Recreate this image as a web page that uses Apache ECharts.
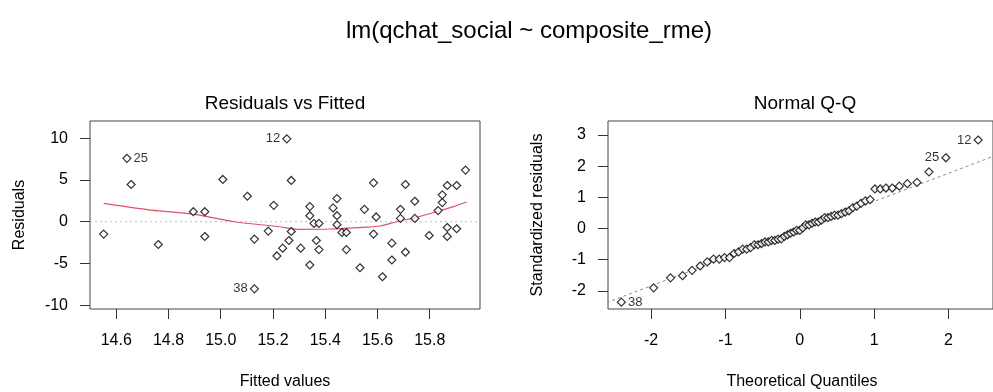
<!DOCTYPE html>
<html>
<head>
<meta charset="utf-8">
<script src="https://cdn.jsdelivr.net/npm/echarts@6/dist/echarts.min.js"></script>
<style>
html,body{margin:0;padding:0;background:#fff;}
#chart{width:993px;height:392px;}
</style>
</head>
<body>
<div id="chart"></div>
<script>
// ---- data ----
const fittedVals = [14.552,14.641,14.657,14.761,14.895,14.939,14.939,15.008,15.102,15.129,15.129,15.182,15.203,15.215,15.237,15.253,15.261,15.270,15.270,15.306,15.341,15.341,15.341,15.357,15.376,15.366,15.376,15.430,15.445,15.445,15.445,15.464,15.481,15.481,15.533,15.550,15.585,15.595,15.585,15.619,15.655,15.655,15.688,15.688,15.707,15.707,15.743,15.743,15.798,15.832,15.848,15.848,15.867,15.867,15.867,15.903,15.903,15.937];
const residVals = [-1.48,7.59,4.46,-2.73,1.20,1.20,-1.77,5.06,3.05,-2.08,-8.04,-1.12,1.96,-4.10,-3.17,9.92,-2.25,4.94,-1.17,-3.17,1.81,0.72,-5.18,-0.20,-0.20,-2.25,-3.34,1.65,2.77,0.72,-0.36,-1.29,-1.29,-3.34,-5.51,1.48,4.66,0.57,-1.48,-6.59,-2.57,-4.58,1.48,0.40,4.46,-3.65,2.45,0.40,-1.65,1.33,3.22,2.29,4.34,-0.69,-1.77,4.34,-0.84,6.18];
const smoothX = [14.552,14.734,14.900,15.053,15.226,15.303,15.417,15.545,15.609,15.673,15.749,15.826,15.890,15.941];
const smoothY = [2.20,1.40,0.89,0.00,-0.60,-0.91,-0.87,-0.67,-0.51,0.00,0.53,1.20,1.80,2.36];
const residLabelIds = ['12','25','38'];
const residLabelFitted = [15.253,14.641,15.129];
const residLabelSide = ['left','right','left'];

const qqTheo = [-2.40,-1.966,-1.739,-1.577,-1.448,-1.340,-1.245,-1.160,-1.083,-1.012,-0.946,-0.883,-0.824,-0.768,-0.714,-0.662,-0.611,-0.562,-0.515,-0.468,-0.423,-0.379,-0.335,-0.292,-0.249,-0.207,-0.165,-0.124,-0.082,-0.041,0,
  0.041,0.082,0.124,0.165,0.207,0.249,0.292,0.335,0.379,0.423,0.468,0.515,0.562,0.611,0.662,0.714,0.768,0.824,0.883,0.946,1.012,1.083,1.160,1.245,1.340,1.448,1.577,1.739,1.966,2.40];
const qqStd = [-2.36,-1.90,-1.58,-1.51,-1.34,-1.20,-1.07,-0.98,-0.98,-0.93,-0.93,-0.80,-0.75,-0.66,-0.66,-0.61,-0.52,-0.52,-0.48,-0.43,-0.43,-0.38,-0.38,-0.34,-0.33,-0.25,-0.20,-0.15,-0.11,-0.06,-0.06,
  0.02,0.12,0.12,0.17,0.21,0.21,0.27,0.35,0.35,0.39,0.43,0.43,0.48,0.53,0.57,0.67,0.72,0.81,0.89,0.93,1.27,1.27,1.30,1.30,1.36,1.44,1.48,1.82,2.27,2.84];
const qqLabelIds = ['38','25','12'];
const qqLabelRank = [0,59,60];
const qqLabelSide = ['right','left','left'];
const qqLineX = [-2.6,2.6];
const qqLineY = [-2.378,2.312];

const residXTicks = [14.6,14.8,15.0,15.2,15.4,15.6,15.8];
const residYTicks = [-10,-5,0,5,10];
const qqXTicks = [-2,-1,0,1,2];
const qqYTicks = [-2,-1,0,1,2,3];

const mainTitle = 'lm(qchat_social ~ composite_rme)';
const panelTitles = ['Residuals vs Fitted','Normal Q-Q'];
const xNames = ['Fitted values','Theoretical Quantiles'];
const yNames = ['Residuals','Standardized residuals'];

// ---- chart ----
const FONT = '"Liberation Sans", Arial, sans-serif';
const chart = echarts.init(document.getElementById('chart'), null, {renderer:'canvas'});

const pointStyle = {color:'#fff', borderColor:'#000', borderWidth:1.2};
function labelFor(text, side){
  return {show:true, formatter:text, position:side, distance:2, color:'#000', fontSize:13, fontFamily:FONT};
}

const residData = fittedVals.map((x,i)=>{
  const d = {value:[x, residVals[i]]};
  const k = residLabelFitted.indexOf(x);
  if (k >= 0 && Math.abs(residVals[i]) > 7) d.label = labelFor(residLabelIds[k], residLabelSide[k]);
  return d;
});
const qqData = qqTheo.map((x,i)=>{
  const d = {value:[x, qqStd[i]]};
  const k = qqLabelRank.indexOf(i);
  if (k >= 0) d.label = labelFor(qqLabelIds[k], qqLabelSide[k]);
  return d;
});

function valueAxis(gridIndex, min, max, ticks, fmt){
  return {
    type:'value', gridIndex, min, max, scale:true,
    axisLine:{show:false, onZero:false},
    splitLine:{show:false},
    axisTick:{show:true, inside:false, length:10, lineStyle:{color:'#333', width:1}, customValues:ticks},
    axisLabel:{show:true, customValues:ticks, color:'#000', fontSize:16, fontFamily:FONT, margin:0,
      formatter: fmt || (v=>String(v))},
  };
}
const xAxes = [valueAxis(0,14.4996,15.9924,residXTicks,v=>v.toFixed(1)), valueAxis(1,-2.58,2.60,qqXTicks)];
xAxes.forEach(a=>{a.axisLabel.margin = 24; a.position='bottom';});
const yAxes = [valueAxis(0,-10.45,12.06,residYTicks), valueAxis(1,-2.58,3.45,qqYTicks)];
yAxes.forEach(a=>{a.axisLabel.margin = 22; a.position='left';});

const textStyle = (size)=>({fill:'#000', font:`${size}px ${FONT}`, textAlign:'center', textVerticalAlign:'middle'});

chart.setOption({
  animation:false,
  backgroundColor:'#fff',
  grid:[
    {left:90, top:121, width:390, height:188, show:true, borderColor:'#444', borderWidth:1, backgroundColor:'transparent'},
    {left:608, top:121, width:391, height:188, show:true, borderColor:'#444', borderWidth:1, backgroundColor:'transparent'}
  ],
  xAxis:xAxes,
  yAxis:yAxes,
  series:[
    {type:'line', xAxisIndex:0, yAxisIndex:0, data:[[14.4996,0],[15.9924,0]], symbol:'none', silent:true,
      lineStyle:{color:'#BEBEBE', width:1, type:[2,3]}, z:1},
    {type:'line', xAxisIndex:0, yAxisIndex:0, data:smoothX.map((x,i)=>[x,smoothY[i]]), symbol:'none', smooth:0.3,
      lineStyle:{color:'#DF536B', width:1.2}, z:2},
    {type:'scatter', xAxisIndex:0, yAxisIndex:0, data:residData, symbol:'diamond', symbolSize:8,
      itemStyle:pointStyle, z:3},
    {type:'line', xAxisIndex:1, yAxisIndex:1, data:qqLineX.map((x,i)=>[x,qqLineY[i]]), symbol:'none', silent:true,
      lineStyle:{color:'#8a8a8a', width:1, type:[3,3]}, z:1},
    {type:'scatter', xAxisIndex:1, yAxisIndex:1, data:qqData, symbol:'diamond', symbolSize:8,
      itemStyle:pointStyle, z:3}
  ],
  graphic:[
    {type:'text', x:529, y:31, style:Object.assign(textStyle(24),{text:mainTitle})},
    {type:'text', x:285, y:104, style:Object.assign(textStyle(19),{text:panelTitles[0]})},
    {type:'text', x:805, y:104, style:Object.assign(textStyle(19),{text:panelTitles[1]})},
    {type:'text', x:285, y:382, style:Object.assign(textStyle(16),{text:xNames[0]})},
    {type:'text', x:802, y:382, style:Object.assign(textStyle(16),{text:xNames[1]})},
    {type:'text', x:20, y:215, rotation:Math.PI/2, style:Object.assign(textStyle(16),{text:yNames[0]})},
    {type:'text', x:538, y:215, rotation:Math.PI/2, style:Object.assign(textStyle(16),{text:yNames[1]})}
  ]
});
</script>
</body>
</html>
